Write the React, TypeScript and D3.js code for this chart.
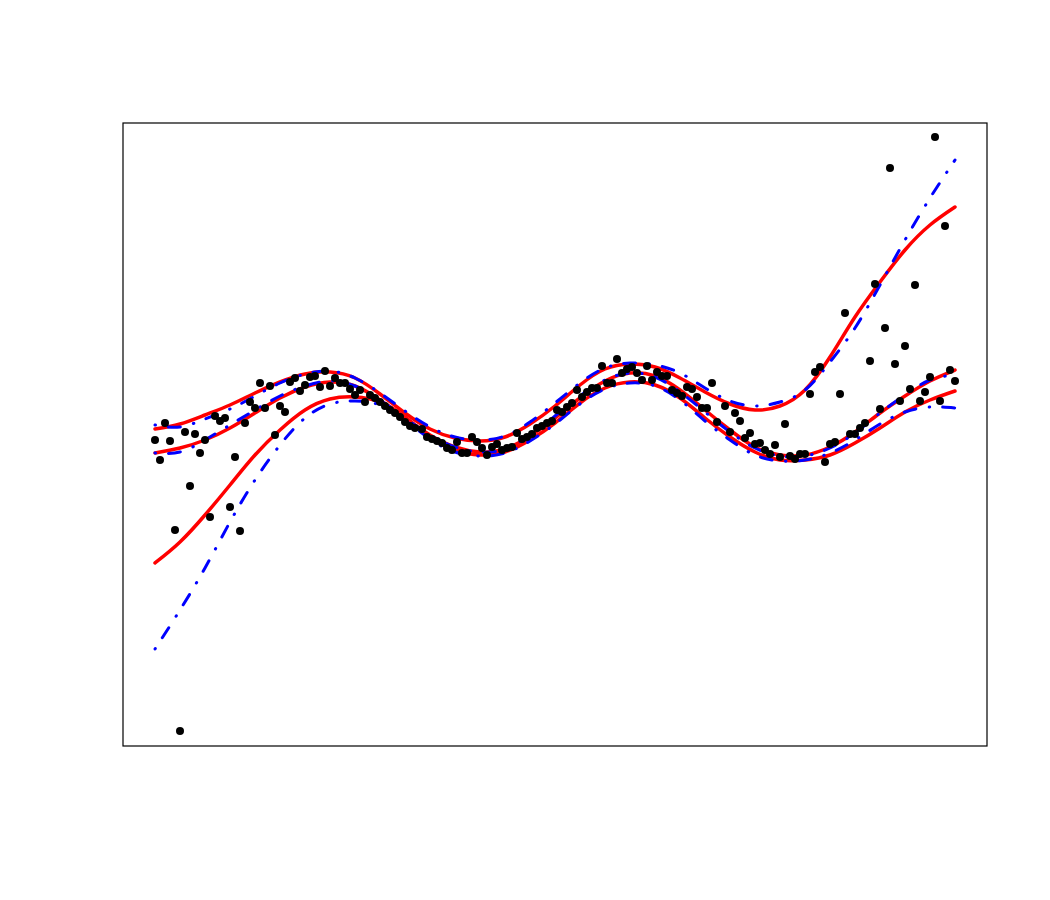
import React from 'react';
import * as d3 from 'd3';

// Grid on which the fitted curves are given
const curveX = [0, 0.25, 0.5, 0.75, 1, 1.25, 1.5, 1.75, 2, 2.25, 2.5, 2.75, 3, 3.25, 3.5, 3.75, 4,
  4.25, 4.5, 4.75, 5, 5.25, 5.5, 5.75, 6, 6.25, 6.5, 6.75, 7, 7.25, 7.5, 7.75, 8];

// Red solid curves (upper, middle, lower)
const redUpper = [0.42, 0.52, 0.70, 0.90, 1.14, 1.36, 1.52, 1.56, 1.44, 1.12, 0.74, 0.42, 0.24, 0.18, 0.26, 0.52, 0.88,
  1.30, 1.62, 1.72, 1.66, 1.44, 1.16, 0.92, 0.80, 0.88, 1.20, 1.86, 2.66, 3.36, 4.00, 4.50, 4.86];
const redMiddle = [-0.06, 0.04, 0.20, 0.44, 0.74, 1.04, 1.26, 1.36, 1.28, 1.00, 0.64, 0.30, 0.06, -0.04, 0.02, 0.28, 0.64,
  1.04, 1.38, 1.54, 1.48, 1.20, 0.80, 0.40, 0.06, -0.10, -0.10, 0.06, 0.36, 0.74, 1.08, 1.38, 1.60];
const redLower = [-2.26, -1.84, -1.30, -0.70, -0.10, 0.40, 0.80, 1.02, 1.06, 0.96, 0.66, 0.26, 0.00, -0.10, -0.04, 0.20, 0.54,
  0.94, 1.24, 1.36, 1.30, 1.04, 0.64, 0.26, -0.04, -0.20, -0.20, -0.10, 0.14, 0.44, 0.76, 1.00, 1.18];

// Blue dot-dash curves (upper, middle, lower)
const blueUpper = [0.50, 0.46, 0.62, 0.82, 1.08, 1.34, 1.52, 1.58, 1.44, 1.14, 0.78, 0.46, 0.26, 0.20, 0.28, 0.56, 0.94,
  1.34, 1.64, 1.74, 1.70, 1.54, 1.24, 0.98, 0.88, 0.96, 1.20, 1.76, 2.44, 3.30, 4.20, 5.04, 5.80];
const blueMiddle = [-0.06, -0.04, 0.20, 0.50, 0.80, 1.08, 1.28, 1.38, 1.28, 1.00, 0.64, 0.30, 0.06, -0.04, 0.02, 0.30, 0.68,
  1.08, 1.40, 1.54, 1.46, 1.16, 0.76, 0.36, 0.04, -0.12, -0.12, 0.04, 0.34, 0.74, 1.10, 1.40, 1.50];
const blueLower = [-3.98, -3.20, -2.36, -1.44, -0.60, 0.10, 0.64, 0.92, 0.98, 0.90, 0.60, 0.22, -0.04, -0.12, -0.06, 0.18, 0.52,
  0.92, 1.22, 1.34, 1.28, 1.00, 0.58, 0.20, -0.10, -0.22, -0.20, -0.06, 0.20, 0.52, 0.76, 0.86, 0.84];

// Observations
const pointX = [
  0, 0.05, 0.1, 0.15, 0.2, 0.25, 0.3, 0.35, 0.4, 0.45, 0.5, 0.55, 0.6, 0.65, 0.7, 0.75, 0.8, 0.85, 0.9, 0.95,
  1.0, 1.05, 1.1, 1.15, 1.2, 1.25, 1.3, 1.35, 1.4, 1.45, 1.5, 1.55, 1.6, 1.65, 1.7, 1.75, 1.8, 1.85, 1.9, 1.95,
  2.0, 2.05, 2.1, 2.15, 2.2, 2.25, 2.3, 2.35, 2.4, 2.45, 2.5, 2.55, 2.6,
  2.67, 2.72, 2.77, 2.82, 2.87, 2.92, 2.97, 3.02, 3.07, 3.12, 3.17, 3.22, 3.27, 3.32, 3.37, 3.42, 3.47, 3.52, 3.57, 3.62,
  3.67, 3.72, 3.77, 3.82, 3.87, 3.92, 3.97, 4.02, 4.07, 4.12, 4.17, 4.22, 4.27, 4.32, 4.37, 4.42, 4.47, 4.52, 4.57, 4.62,
  4.67, 4.72, 4.77, 4.82, 4.87, 4.92, 4.97, 5.02, 5.07, 5.12, 5.17, 5.22, 5.27, 5.32, 5.37, 5.42, 5.47, 5.52, 5.57, 5.62,
  5.7, 5.75, 5.8, 5.85, 5.9, 5.95, 6.0, 6.05, 6.1, 6.15, 6.2, 6.25, 6.3, 6.35, 6.4, 6.45, 6.5, 6.55, 6.6, 6.65,
  6.7, 6.75, 6.8, 6.85, 6.9, 6.95, 7.0, 7.05, 7.1, 7.15, 7.2, 7.25, 7.3, 7.35, 7.4, 7.45, 7.5, 7.55, 7.6, 7.65,
  7.7, 7.75, 7.8, 7.85, 7.9, 7.95, 8.0];
const pointY = [
  0.20, -0.20, 0.54, 0.18, -1.60, -5.62, 0.36, -0.72, 0.32, -0.06, 0.20, -1.34, 0.68, 0.58, 0.64, -1.14, -0.14, -1.62, 0.54, 0.96,
  0.84, 1.34, 0.84, 1.28, 0.30, 0.88, 0.76, 1.36, 1.44, 1.18, 1.30, 1.46, 1.48, 1.26, 1.58, 1.28, 1.44, 1.34, 1.34, 1.22,
  1.10, 1.20, 0.96, 1.10, 1.04, 0.96, 0.88, 0.80, 0.74, 0.66, 0.56, 0.48, 0.44,
  0.42, 0.26, 0.22, 0.18, 0.14, 0.04, 0.00, 0.16, -0.06, -0.06, 0.26, 0.16, 0.04, -0.10, 0.06, 0.12, 0.00, 0.04, 0.06, 0.34,
  0.22, 0.26, 0.32, 0.44, 0.48, 0.54, 0.58, 0.80, 0.76, 0.86, 0.94, 1.20, 1.06, 1.16, 1.24, 1.24, 1.68, 1.34, 1.34, 1.82,
  1.54, 1.62, 1.66, 1.54, 1.40, 1.68, 1.40, 1.56, 1.48, 1.48, 1.20, 1.14, 1.08, 1.26, 1.22, 1.06, 0.84, 0.84, 1.34, 0.56,
  0.88, 0.36, 0.74, 0.58, 0.24, 0.34, 0.12, 0.14, 0.00, -0.08, 0.10, -0.14, 0.52, -0.12, -0.18, -0.08, -0.08, 1.12, 1.56, 1.66,
  -0.24, 0.12, 0.16, 1.12, 2.74, 0.32, 0.32, 0.44, 0.54, 1.78, 3.32, 0.82, 2.44, 5.64, 1.72, 0.98, 2.08, 1.22, 3.30, 0.98,
  1.16, 1.46, 6.26, 0.98, 4.48, 1.60, 1.38];

export default function App() {
  const W = 1050;
  const H = 900;
  const left = 123, right = 987, top = 123, bottom = 746;
  const x = d3.scaleLinear().domain([-0.32, 8.32]).range([left, right]);
  const y = d3.scaleLinear().domain([-5.92, 6.54]).range([bottom, top]);

  const line = d3
    .line<number>()
    .x((_, i) => x(curveX[i]))
    .y((d) => y(d))
    .curve(d3.curveNatural);

  const reds = [redUpper, redMiddle, redLower];
  const blues = [blueUpper, blueMiddle, blueLower];

  return (
    <svg
      width={W}
      height={H}
      style={{ position: 'absolute', left: 0, top: 0, background: '#ffffff' }}
    >
      <rect x={0} y={0} width={W} height={H} fill="#ffffff" />
      {reds.map((s, i) => (
        <path key={'r' + i} d={line(s) || ''} fill="none" stroke="#ff0000" strokeWidth={3.5} strokeLinecap="round" strokeLinejoin="round" />
      ))}
      {blues.map((s, i) => (
        <path key={'b' + i} d={line(s) || ''} fill="none" stroke="#0000ff" strokeWidth={3} strokeLinecap="round" strokeDasharray="0.5,13,12,13.5" />
      ))}
      {pointX.map((px, i) => (
        <circle key={'p' + i} cx={x(px)} cy={y(pointY[i])} r={4} fill="#000000" />
      ))}
      <rect x={left} y={top} width={right - left} height={bottom - top} fill="none" stroke="#000000" strokeWidth={1.2} />
    </svg>
  );
}
